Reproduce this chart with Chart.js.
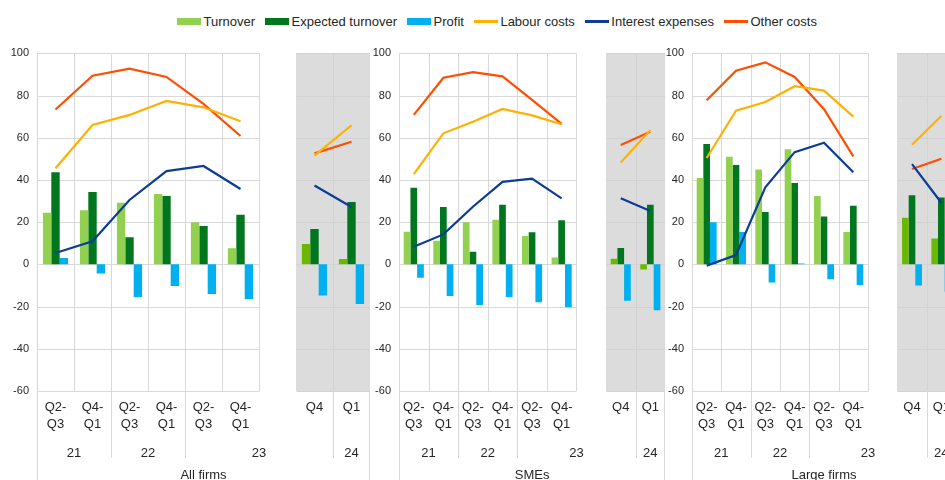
<!DOCTYPE html>
<html>
<head>
<meta charset="utf-8">
<script src="https://cdn.jsdelivr.net/npm/chart.js@4.4.0/dist/chart.umd.min.js"></script>
<style>
  body { margin: 0; width: 945px; height: 480px; overflow: hidden; background: #fff; position: relative;
         font-family: "Liberation Sans", Arial, sans-serif; }
  canvas { position: absolute; top: 0; }
  #legend { position: absolute; left: 177px; top: 14px; height: 15px; line-height: 15px; display: flex;
            align-items: center; font-size: 13px; color: #262626; white-space: nowrap; }
  .item { display: flex; align-items: center; margin-right: 10px; }
  .sw { width: 24px; margin-right: 2.5px; }
</style>
</head>
<body>
<div id="legend"></div>
<canvas id="c1" width="370" height="480" style="left:0"></canvas>
<canvas id="c2" width="296" height="480" style="left:370px"></canvas>
<canvas id="c3" width="291" height="480" style="left:666px"></canvas>
<script>
// categories: 6 half-years, one empty slot, then the two shaded quarters
const categories = [['Q2-', 'Q3'], ['Q4-', 'Q1'], ['Q2-', 'Q3'], ['Q4-', 'Q1'], ['Q2-', 'Q3'], ['Q4-', 'Q1'], '', 'Q4', 'Q1'];
const yearLabels = ['21', '22', '23', '24'];
const yearSpans = [[0, 1], [2, 3], [4, 7], [8, 8]];
const panelNames = ['All firms', 'SMEs', 'Large firms'];

const seriesNames = ['Turnover', 'Expected turnover', 'Profit', 'Labour costs', 'Interest expenses', 'Other costs'];
const seriesColors = ['#92d050', '#00771e', '#00b0f0', '#ffb000', '#0b3c96', '#ff4e00'];
const shadedTurnoverColor = '#6cb800';

// All firms
const allTurnover = [24.5, 25.6, 29.2, 33.3, 20.0, 7.6, null, 9.7, 2.5];
const allExpected = [43.6, 34.3, 12.8, 32.4, 18.2, 23.5, null, 16.7, 29.5];
const allProfit   = [3.0, -4.3, -15.5, -10.3, -14.1, -16.4, null, -14.7, -18.8];
const allLabour   = [45.5, 66.0, 70.8, 77.4, 74.4, 67.8, null, 51.5, 65.9];
const allInterest = [5.4, 10.9, 30.5, 44.2, 46.6, 35.7, null, 37.4, 27.2];
const allOther    = [73.4, 89.4, 92.7, 88.8, 76.0, 60.8, null, 52.6, 58.1];

// SMEs
const smeTurnover = [15.5, 11.2, 20.0, 21.1, 13.4, 3.3, null, 2.7, -2.4];
const smeExpected = [36.3, 27.2, 6.0, 28.3, 15.2, 20.9, null, 7.7, 28.3];
const smeProfit   = [-6.3, -15.0, -19.2, -15.5, -18.0, -20.3, null, -17.2, -21.8];
const smeLabour   = [42.8, 62.1, 67.6, 73.6, 70.6, 66.4, null, 48.3, 63.6];
const smeInterest = [8.3, 14.2, 27.3, 39.1, 40.6, 31.3, null, 31.3, 25.3];
const smeOther    = [70.8, 88.4, 91.1, 89.1, 77.9, 66.6, null, 56.5, 62.8];

// Large firms
const largeTurnover = [40.9, 51.0, 45.0, 54.5, 32.4, 15.3, null, 22.1, 12.3];
const largeExpected = [57.0, 47.1, 24.8, 38.5, 22.7, 27.8, null, 32.8, 31.7];
const largeProfit   = [20.0, 15.3, -8.6, 0.4, -7.0, -9.8, null, -10.0, -13.0];
const largeLabour   = [50.4, 72.8, 76.9, 84.4, 82.3, 70.0, null, 56.7, 70.3];
const largeInterest = [-0.6, 4.4, 36.5, 53.2, 57.6, 43.6, null, 47.5, 29.2];
const largeOther    = [77.8, 91.8, 95.7, 88.8, 73.5, 51.2, null, 45.2, 50.0];

const yMin = -60, yMax = 100, yStep = 20;

const textColor = '#262626';
const fontFamily = '"Liberation Sans", Arial, sans-serif';

// legend
const legend = document.getElementById('legend');
seriesNames.forEach((name, i) => {
  const item = document.createElement('div');
  item.className = 'item';
  const sw = document.createElement('div');
  sw.className = 'sw';
  sw.style.background = seriesColors[i];
  sw.style.height = i < 3 ? '7px' : '2.5px';
  item.appendChild(sw);
  item.appendChild(document.createTextNode(name));
  legend.appendChild(item);
});

function hline(ctx, x0, x1, y, color) {
  ctx.strokeStyle = color;
  ctx.beginPath(); ctx.moveTo(x0, y); ctx.lineTo(x1, y); ctx.stroke();
}
function vline(ctx, x, y0, y1, color) {
  ctx.strokeStyle = color;
  ctx.beginPath(); ctx.moveTo(x, y0); ctx.lineTo(x, y1); ctx.stroke();
}

// grid, shading, year row and panel name
const panelFrame = {
  id: 'panelFrame',
  beforeDatasetsDraw(chart) {
    const { ctx, chartArea: a, scales: { x, y } } = chart;
    const step = x.getPixelForValue(1) - x.getPixelForValue(0);
    const edge = i => Math.round(x.getPixelForValue(i) - step / 2) + 0.5;
    const gap = categories.indexOf('');
    const mainEnd = edge(gap), shadeStart = edge(gap + 1);
    ctx.save();
    ctx.lineWidth = 1;
    ctx.fillStyle = '#dcdcdc';
    ctx.fillRect(shadeStart - 0.5, a.top, a.right - shadeStart + 0.5, a.bottom - a.top);
    y.ticks.forEach(t => {
      const py = Math.round(y.getPixelForValue(t.value)) + 0.5;
      hline(ctx, a.left, mainEnd, py, '#d9d9d9');
      hline(ctx, shadeStart, a.right, py, '#d2d2d2');
    });
    for (let i = 0; i <= gap; i++) vline(ctx, edge(i), a.top, a.bottom, '#d9d9d9');
    for (let i = gap + 2; i < categories.length; i++) vline(ctx, edge(i), a.top, a.bottom, '#d2d2d2');
    // separators below the plot
    vline(ctx, edge(0), a.bottom, chart.height, '#d9d9d9');
    vline(ctx, Math.round(a.right) - 0.5, a.bottom, chart.height, '#d9d9d9');
    yearSpans.forEach((s, k) => {
      if (k > 0) vline(ctx, edge(s[0]), a.bottom, a.bottom + 67, '#d9d9d9');
    });
    ctx.restore();
  },
  afterDraw(chart, args, opts) {
    const { ctx, chartArea: a, scales: { x } } = chart;
    ctx.save();
    ctx.font = '13px ' + fontFamily;
    ctx.fillStyle = textColor;
    ctx.textAlign = 'center';
    ctx.textBaseline = 'alphabetic';
    yearSpans.forEach((s, k) => {
      const cx = (x.getPixelForValue(s[0]) + x.getPixelForValue(s[1])) / 2;
      ctx.fillText(yearLabels[k], cx, a.bottom + 65.5);
    });
    ctx.fillText(opts.name, (a.left + a.right) / 2, a.bottom + 88);
    ctx.restore();
  }
};

function buildPanel(canvasId, axisWidth, panelIndex, series) {
  const gap = categories.indexOf('');
  const datasets = series.map((data, i) => {
    if (i < 3) {
      return {
        type: 'bar', label: seriesNames[i], data: data, order: 2,
        backgroundColor: i === 0
          ? (c => c.dataIndex > gap ? shadedTurnoverColor : seriesColors[0])
          : seriesColors[i],
        borderWidth: 0,
        barPercentage: 1.0, categoryPercentage: 0.68
      };
    }
    return {
      type: 'line', label: seriesNames[i], data: data, order: 1,
      borderColor: seriesColors[i], backgroundColor: seriesColors[i],
      borderWidth: 2.2, pointRadius: 0, tension: 0, spanGaps: false, fill: false
    };
  });

  new Chart(document.getElementById(canvasId), {
    type: 'bar',
    data: { labels: categories, datasets: datasets },
    options: {
      responsive: false, animation: false, devicePixelRatio: 1,
      layout: { padding: { top: 53.3, right: 0, bottom: 0, left: 0 } },
      plugins: {
        legend: { display: false }, tooltip: { enabled: false },
        panelFrame: { name: panelNames[panelIndex] }
      },
      scales: {
        x: {
          grid: { display: false, drawTicks: false }, border: { display: false },
          ticks: {
            autoSkip: false, maxRotation: 0, minRotation: 0, padding: 7, color: textColor,
            font: { family: fontFamily, size: 13, lineHeight: 1.38 }
          },
          afterFit: s => { s.height = 89; }
        },
        y: {
          min: yMin, max: yMax,
          grid: { display: false, drawTicks: false }, border: { display: false },
          ticks: { stepSize: yStep, padding: 8, color: textColor, font: { family: fontFamily, size: 11 } },
          afterFit: s => { s.width = axisWidth; }
        }
      }
    },
    plugins: [panelFrame]
  });
}

buildPanel('c1', 37, 0, [allTurnover, allExpected, allProfit, allLabour, allInterest, allOther]);
buildPanel('c2', 29, 1, [smeTurnover, smeExpected, smeProfit, smeLabour, smeInterest, smeOther]);
buildPanel('c3', 26, 2, [largeTurnover, largeExpected, largeProfit, largeLabour, largeInterest, largeOther]);
</script>
</body>
</html>
